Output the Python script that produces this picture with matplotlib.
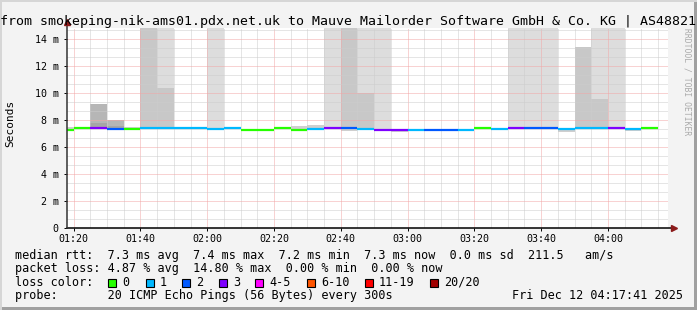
import numpy as np
import matplotlib
matplotlib.use('Agg')
import matplotlib.pyplot as plt
from matplotlib.patches import Rectangle

# 5 minute bins (start time), median rtt in ms, lost pings out of 20
bin_start = ['01:15', '01:20', '01:25', '01:30', '01:35', '01:40', '01:45', '01:50', '01:55',
             '02:00', '02:05', '02:10', '02:15', '02:20', '02:25', '02:30', '02:35', '02:40',
             '02:45', '02:50', '02:55', '03:00', '03:05', '03:10', '03:15', '03:20', '03:25',
             '03:30', '03:35', '03:40', '03:45', '03:50', '03:55', '04:00', '04:05', '04:10']
median_ms = [7.28, 7.40, 7.40, 7.33, 7.33, 7.40, 7.40, 7.40, 7.40,
             7.35, 7.40, 7.30, 7.30, 7.40, 7.28, 7.35, 7.40, 7.40,
             7.33, 7.28, 7.28, 7.28, 7.25, 7.28, 7.28, 7.40, 7.33,
             7.40, 7.40, 7.40, 7.33, 7.40, 7.40, 7.40, 7.33, 7.40]
lost_pings = [0, 0, 3, 2, 0, 1, 1, 1, 1,
              1, 1, 0, 0, 0, 0, 1, 3, 2,
              1, 3, 3, 1, 2, 2, 1, 0, 1,
              3, 2, 2, 1, 1, 1, 3, 1, 0]
nan = np.nan
# smoke (spread of the 20 pings), ms; 16 = above the top of the graph
smoke_lo = [7.20, nan, nan, nan, 7.30, nan, nan, nan, nan,
            7.25, nan, nan, nan, nan, 7.25, 7.25, nan, 7.20,
            nan, nan, 7.10, nan, nan, nan, nan, nan, nan,
            nan, nan, nan, 7.15, nan, nan, nan, 7.20, nan]
smoke_hi = [7.50, nan, nan, nan, 7.50, nan, nan, nan, nan,
            7.45, nan, nan, nan, nan, 7.58, 7.65, nan, 7.40,
            nan, nan, 7.30, nan, nan, nan, nan, nan, nan,
            nan, nan, nan, 7.35, nan, nan, nan, 7.40, nan]
light_top = [nan, nan, nan, nan, nan, nan, 16, nan, nan,
             16, nan, nan, nan, nan, nan, nan, 16, nan,
             16, 16, nan, nan, nan, nan, nan, nan, nan,
             16, 16, 16, nan, nan, 16, 16, nan, nan]
mid_top = [nan, nan, nan, nan, nan, 16, 10.4, nan, nan,
           nan, nan, nan, nan, nan, nan, nan, nan, 16,
           10.05, nan, nan, nan, nan, nan, nan, nan, nan,
           nan, nan, nan, nan, 13.4, 9.6, nan, nan, nan]
dark_top = [nan, nan, 9.2, 8.0] + [nan] * 32
core_top = [nan, nan, 7.8, 7.6] + [nan] * 32

time_ticks = ['01:20', '01:40', '02:00', '02:20', '02:40', '03:00', '03:20', '03:40', '04:00']
ms_ticks = [0, 2, 4, 6, 8, 10, 12, 14]

loss_labels = ['0', '1', '2', '3', '4-5', '6-10', '11-19', '20/20']
loss_colors = ['#26ff00', '#00b8ff', '#0059ff', '#7e00ff', '#ff00ff', '#ff5500', '#ff0000', '#a10000']


def minutes(s):
    h, m = s.split(':')
    return int(h) * 60 + int(m)


def loss_color(n):
    if n <= 3:
        return loss_colors[n]
    if n <= 5:
        return loss_colors[4]
    if n <= 10:
        return loss_colors[5]
    if n <= 19:
        return loss_colors[6]
    return loss_colors[7]


W, H = 697, 310
mono = 'DejaVu Sans Mono'
fig = plt.figure(figsize=(W / 100, H / 100), dpi=100, facecolor='#f3f3f3')
ax = fig.add_axes([67 / W, (H - 228.3) / H, 601 / W, 200.6 / H])
ax.set_facecolor('white')

x = np.array([minutes(s) for s in bin_start])
med = np.array(median_ms)

ax.bar(x, np.array(light_top) - med, bottom=med, width=5, align='edge', color='#dddddd', lw=0)
ax.bar(x, np.array(mid_top) - med, bottom=med, width=5, align='edge', color='#c8c8c8', lw=0)
ax.bar(x, np.array(dark_top) - med, bottom=med, width=5, align='edge', color='#b6b6b6', lw=0)
ax.bar(x, np.array(core_top) - med, bottom=med, width=5, align='edge', color='#a6a6a6', lw=0)
ax.bar(x, np.array(smoke_hi) - np.array(smoke_lo), bottom=smoke_lo, width=5, align='edge',
       color='#cfcfcf', lw=0)
ax.hlines(med, x, x + 5, colors=[loss_color(n) for n in lost_pings], lw=1.6, zorder=3)

ax.set_xlim(78, 258)
ax.set_ylim(0, 14.86)
ax.set_xticks([minutes(t) for t in time_ticks])
ax.set_xticklabels(time_ticks)
ax.set_xticks(np.arange(80, 258, 5), minor=True)
ax.set_yticks(ms_ticks)
ax.set_yticklabels(['0'] + [f'{v} m' for v in ms_ticks[1:]])
ax.set_yticks(np.arange(0, 14.86, 2 / 3), minor=True)
ax.set_axisbelow(False)
ax.grid(which='minor', color='#cdcdcd', ls=(0, (1, 1)), lw=0.72)
ax.grid(which='major', color='#f2a6a6', ls=(0, (1, 1)), lw=0.72)
ax.tick_params(which='both', labelsize=7.2, length=2, width=0.7, direction='out', color='black')
ax.tick_params(which='minor', length=0)
ax.tick_params(axis='y', pad=4)
ax.tick_params(axis='x', pad=2)
for lab in ax.get_xticklabels() + ax.get_yticklabels():
    lab.set_family(mono)
for sp in ax.spines.values():
    sp.set_visible(False)

# axis lines with arrows
ax.plot([0, 1.008], [0, 0], transform=ax.transAxes, color='black', lw=1.1, clip_on=False, zorder=4)
ax.plot([0, 0], [0, 1.02], transform=ax.transAxes, color='#333333', lw=1.1, clip_on=False, zorder=4)
ax.plot([1.01], [0], transform=ax.transAxes, marker='>', color='#8b1a1a', ms=5, clip_on=False, zorder=5)
ax.plot([0], [1.03], transform=ax.transAxes, marker='^', color='#8b1a1a', ms=5, clip_on=False, zorder=5)

fig.text(0.5, 1 - 24.5 / H, 'from smokeping-nik-ams01.pdx.net.uk to Mauve Mailorder Software GmbH & Co. KG | AS48821',
         ha='center', va='baseline', family=mono, fontsize=9.5)
fig.text(10 / W, 1 - 123 / H, 'Seconds', rotation=90, ha='center', va='center', family=mono, fontsize=8)
fig.text(687 / W, 1 - 28 / H, 'RRDTOOL / TOBI OETIKER', rotation=270, ha='center', va='top',
         family=mono, fontsize=5.8, color='#aaaaaa')

lx = 15 / W
fs = 8.5
fig.text(lx, 1 - 258.5 / H,
         'median rtt:  7.3 ms avg  7.4 ms max  7.2 ms min  7.3 ms now  0.0 ms sd  211.5   am/s',
         family=mono, fontsize=fs, va='baseline')
fig.text(lx, 1 - 272 / H,
         'packet loss: 4.87 % avg  14.80 % max  0.00 % min  0.00 % now',
         family=mono, fontsize=fs, va='baseline')
fig.text(lx, 1 - 285.5 / H, 'loss color:', family=mono, fontsize=fs, va='baseline')
box_x = [108.3, 145.7, 182.3, 219, 255, 307.3, 365, 430]
for bx, lab, col in zip(box_x, loss_labels, loss_colors):
    fig.add_artist(Rectangle((bx / W, 1 - 286.5 / H), 8 / W, 8 / H, transform=fig.transFigure,
                             facecolor=col, edgecolor='black', lw=0.8))
    fig.text((bx + 14) / W, 1 - 285.5 / H, lab, family=mono, fontsize=fs, va='baseline')
fig.text(lx, 1 - 299 / H, 'probe:       20 ICMP Echo Pings (56 Bytes) every 300s',
         family=mono, fontsize=fs, va='baseline')
fig.text(512 / W, 1 - 299 / H, 'Fri Dec 12 04:17:41 2025', family=mono, fontsize=fs, va='baseline')

# frame
fig.add_artist(Rectangle((0, 0), 1, 3 / H, transform=fig.transFigure, color='#a0a0a0', lw=0))
fig.add_artist(Rectangle((1 - 3 / W, 0), 3 / W, 1, transform=fig.transFigure, color='#a0a0a0', lw=0))
fig.add_artist(Rectangle((0, 1 - 2 / H), 1, 2 / H, transform=fig.transFigure, color='#d6d6d6', lw=0))
fig.add_artist(Rectangle((0, 0), 2 / W, 1, transform=fig.transFigure, color='#d6d6d6', lw=0))

fig.savefig('out.png', dpi=100, facecolor=fig.get_facecolor())
